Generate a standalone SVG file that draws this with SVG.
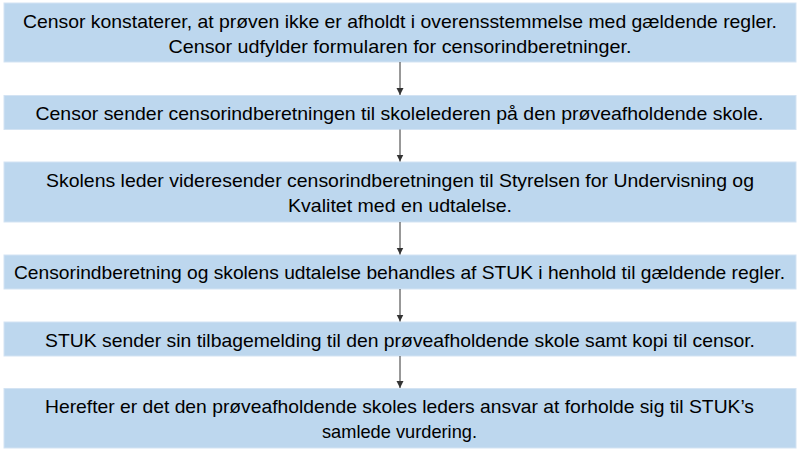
<svg xmlns="http://www.w3.org/2000/svg" width="800" height="457" viewBox="0 0 800 457">
  <style>
    .box { fill: #BDD7EE; stroke: #D3E3F3; stroke-width: 1; }
    .lbl { font-family: "Liberation Sans", Arial, sans-serif; font-size: 18.5px; fill: #000000; text-anchor: middle; }
    .conn { stroke: #333333; stroke-width: 1; fill: none; marker-end: url(#arrow); }
  </style>
  <defs>
    <marker id="arrow" markerUnits="userSpaceOnUse" markerWidth="8" markerHeight="8" refX="7" refY="3.5" orient="auto">
      <path d="M0,0 L7,3.5 L0,7 z" fill="#333333"/>
    </marker>
  </defs>
  <rect width="800" height="457" fill="#FFFFFF"/>

  <g id="node1">
    <rect class="box" x="4" y="3" width="792" height="59"/>
    <text class="lbl" x="400" y="27.7" textLength="754" lengthAdjust="spacingAndGlyphs">Censor konstaterer, at prøven ikke er afholdt i overensstemmelse med gældende regler.</text>
    <text class="lbl" x="400" y="53.2" textLength="463" lengthAdjust="spacingAndGlyphs">Censor udfylder formularen for censorindberetninger.</text>
  </g>

  <g id="node2">
    <rect class="box" x="4" y="95.5" width="792" height="34"/>
    <text class="lbl" x="399.5" y="120" textLength="728" lengthAdjust="spacingAndGlyphs">Censor sender censorindberetningen til skolelederen på den prøveafholdende skole.</text>
  </g>

  <g id="node3">
    <rect class="box" x="4" y="162" width="792" height="60"/>
    <text class="lbl" x="400" y="186.7" textLength="708" lengthAdjust="spacingAndGlyphs">Skolens leder videresender censorindberetningen til Styrelsen for Undervisning og</text>
    <text class="lbl" x="400" y="212.2" textLength="224" lengthAdjust="spacingAndGlyphs">Kvalitet med en udtalelse.</text>
  </g>

  <g id="node4">
    <rect class="box" x="4" y="255" width="792" height="34"/>
    <text class="lbl" x="399.5" y="279.3" textLength="771" lengthAdjust="spacingAndGlyphs">Censorindberetning og skolens udtalelse behandles af STUK i henhold til gældende regler.</text>
  </g>

  <g id="node5">
    <rect class="box" x="4" y="322" width="792" height="34"/>
    <text class="lbl" x="400" y="346.5" textLength="710" lengthAdjust="spacingAndGlyphs">STUK sender sin tilbagemelding til den prøveafholdende skole samt kopi til censor.</text>
  </g>

  <g id="node6">
    <rect class="box" x="4" y="388.5" width="792" height="59.5"/>
    <text class="lbl" x="399.5" y="412.7" textLength="709" lengthAdjust="spacingAndGlyphs">Herefter er det den prøveafholdende skoles leders ansvar at forholde sig til STUK’s</text>
    <text class="lbl" x="399.5" y="438.2" textLength="155" lengthAdjust="spacingAndGlyphs">samlede vurdering.</text>
  </g>

  <g id="connectors">
    <line class="conn" x1="400" y1="62" x2="400" y2="95"/>
    <line class="conn" x1="400" y1="129.5" x2="400" y2="161.5"/>
    <line class="conn" x1="400" y1="222" x2="400" y2="254.5"/>
    <line class="conn" x1="400" y1="289" x2="400" y2="321.5"/>
    <line class="conn" x1="400" y1="356" x2="400" y2="388"/>
  </g>
</svg>
